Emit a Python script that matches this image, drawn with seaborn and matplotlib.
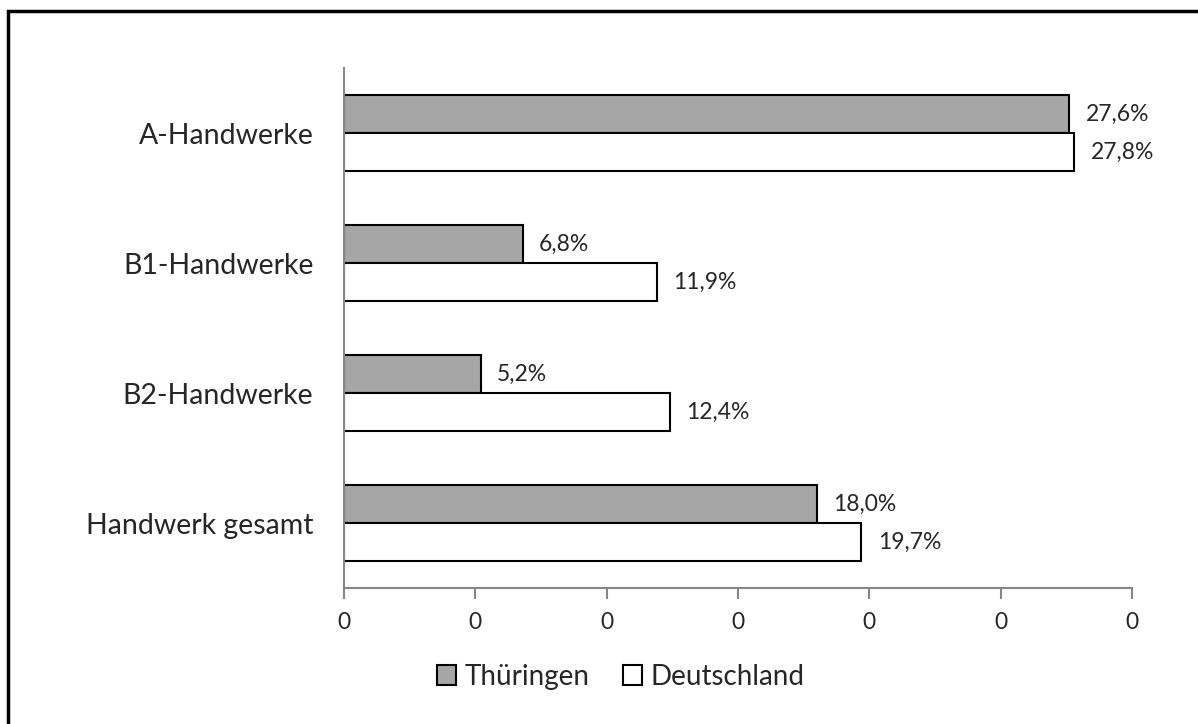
import matplotlib.pyplot as plt
import matplotlib.patches as patches
import seaborn as sns
import pandas as pd

kategorien = ['A-Handwerke', 'B1-Handwerke', 'B2-Handwerke', 'Handwerk gesamt']
thueringen = [0.276, 0.068, 0.052, 0.180]
deutschland = [0.278, 0.119, 0.124, 0.197]
regionen = ['Thüringen', 'Deutschland']

df = pd.DataFrame({
    'kategorie': kategorien * 2,
    'wert': thueringen + deutschland,
    'region': [regionen[0]] * 4 + [regionen[1]] * 4,
})

sns.set_style('white')
plt.rcParams['font.family'] = ['Lato', 'DejaVu Sans']

fig = plt.figure(figsize=(11.98, 7.24), dpi=100)
ax = fig.add_axes([0.2871, 0.1878, 0.6578, 0.7182])

sns.barplot(data=df, x='wert', y='kategorie', hue='region', orient='h',
            palette=['#A6A6A6', '#FFFFFF'], edgecolor='black', linewidth=1.5,
            width=0.58, ax=ax, legend=True)

# Datenbeschriftung mit Komma
for cont in ax.containers:
    labels = [f'{v*100:.1f}%'.replace('.', ',') for v in cont.datavalues]
    ax.bar_label(cont, labels=labels, padding=12, fontsize=16.5)

ax.set_xlim(0, 0.3)
ax.set_xticks([0, 0.05, 0.1, 0.15, 0.2, 0.25, 0.3])
ax.set_xticklabels(['0'] * 7)
ax.set_xlabel('')
ax.set_ylabel('')

for s in ['top', 'right']:
    ax.spines[s].set_visible(False)
for s in ['left', 'bottom']:
    ax.spines[s].set_color('#868686')
    ax.spines[s].set_linewidth(1.5)

ax.tick_params(axis='x', length=8, width=1.5, color='#868686', labelsize=16.5, pad=9, bottom=True)
ax.tick_params(axis='y', length=0, labelsize=20.5, pad=22)

handles, lbls = ax.get_legend_handles_labels()
ax.get_legend().remove()
fig.legend(handles, lbls, loc='center', bbox_to_anchor=(0.518, 0.065), ncol=2,
           frameon=False, fontsize=20, handlelength=0.7, handleheight=0.7,
           handletextpad=0.3, columnspacing=1.2)

# Rahmen um die Grafik
fig.patches.append(patches.Rectangle((8 / 1198, -0.1), 1.2, 1 - 11 / 724 + 0.1,
                                     transform=fig.transFigure, fill=False,
                                     edgecolor='black', linewidth=2.5))

fig.savefig('out.png', dpi=100)
